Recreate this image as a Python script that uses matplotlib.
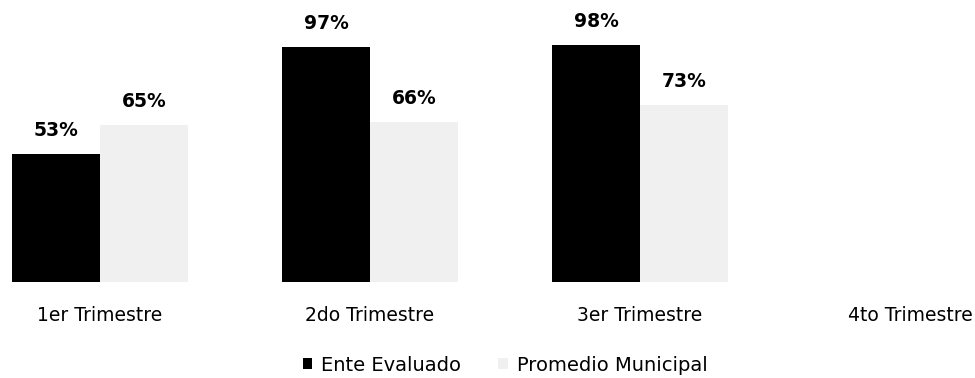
import numpy as np
from matplotlib import pyplot as plt

trimestres = ['1er Trimestre', '2do Trimestre', '3er Trimestre', '4to Trimestre']
ente_evaluado = [53, 97, 98, None]
promedio_municipal = [65, 66, 73, None]

fig = plt.figure(figsize=(9.75, 3.78), dpi=100)
ax = fig.add_axes([0.0, 0.254, 1.0, 0.640])

x = np.arange(len(trimestres))
w = 0.326

ente = [v if v is not None else 0 for v in ente_evaluado]
prom = [v if v is not None else 0 for v in promedio_municipal]

b1 = ax.bar(x - w/2, ente, w, color='black', label='Ente Evaluado')
b2 = ax.bar(x + w/2, prom, w, color='#f0f0f0', label='Promedio Municipal')

for bars, vals in ((b1, ente_evaluado), (b2, promedio_municipal)):
    for rect, v in zip(bars, vals):
        if v is None:
            continue
        ax.annotate(f'{v}%', (rect.get_x() + rect.get_width()/2, v),
                    xytext=(0, 10), textcoords='offset points',
                    ha='center', va='bottom', fontsize=13.5,
                    fontweight='bold', annotation_clip=False)

ax.set_xlim(-0.37, 3.24)
ax.set_ylim(0, 100)
ax.set_xticks(x)
ax.set_xticklabels(trimestres, fontsize=13.5)
ax.tick_params(axis='x', length=0, pad=17)
ax.set_yticks([])
for s in ax.spines.values():
    s.set_visible(False)

fig.legend(loc='center', bbox_to_anchor=(0.518, 0.034), ncol=2, frameon=False,
           fontsize=14, handlelength=0.5, handleheight=0.5, columnspacing=1.9,
           handletextpad=0.45, borderpad=0.1)

fig.savefig('out.png', dpi=100)
